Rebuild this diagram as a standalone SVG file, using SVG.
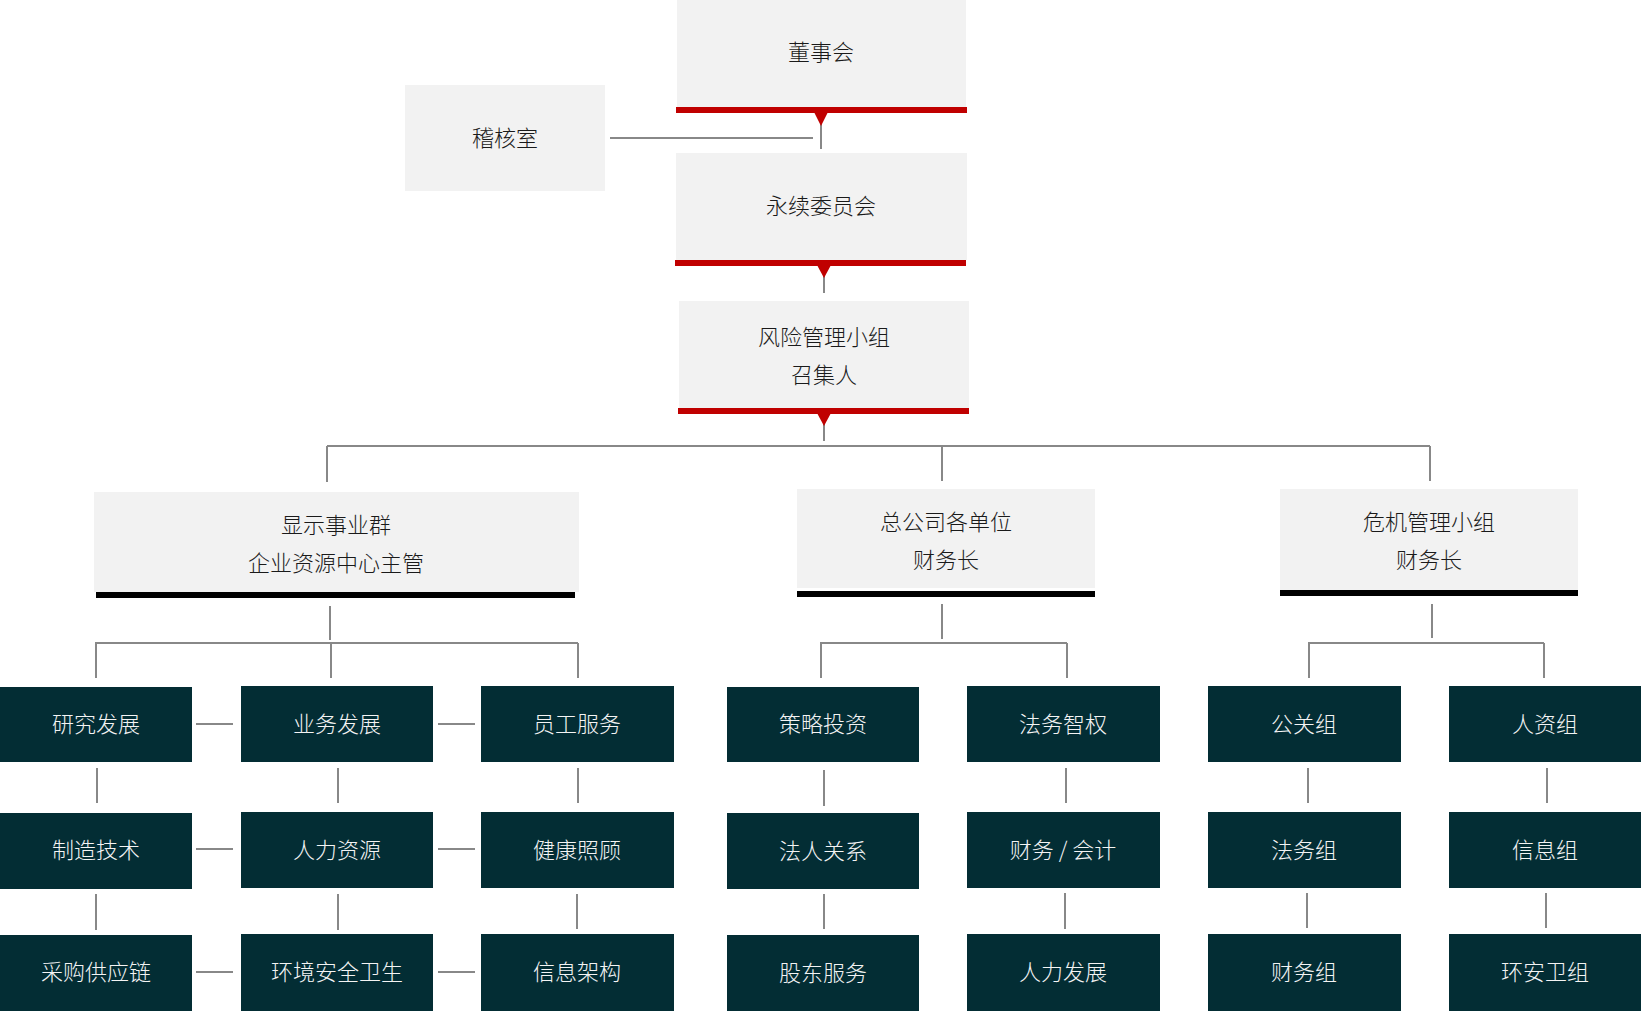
<svg xmlns="http://www.w3.org/2000/svg" width="1641" height="1011" viewBox="0 0 1641 1011">
<style>
.lt{fill:#f2f2f2}
.dk{fill:#032d34}
.red{fill:#c00000}
.blk{fill:#000}
.t{font-family:"Noto Sans CJK SC","Noto Sans",sans-serif;font-size:22px;font-weight:300;text-anchor:middle;dominant-baseline:central}
.td{fill:#1a1a1a}
.tw{fill:#f4f4f4}
.ln{stroke:#888;stroke-width:2;fill:none}
</style>
<rect width="1641" height="1011" fill="#fff"/>
<g id="connectors">
<path class="ln" d="M610 138H813M821 113V149M824 266V293M824 414V441"/>
<path class="ln" d="M327 446H1430M327 446V482M942 446V481M1430 446V481"/>
<path class="ln" d="M330 606V640M95 643H578M96 643V678M331 643V678M578 643V678"/>
<path class="ln" d="M942 604V639M820 643H1067M821 643V678M1067 643V678"/>
<path class="ln" d="M1432 604V638M1308 643H1544M1309 643V678M1544 643V678"/>
<path class="ln" d="M97 768V803M96 894V930M338 768V803M338 894V930M578 768V803M577 894V929M824 770V806M824 894V929M1066 768V803M1065 893V929M1308 768V803M1307 893V928M1547 768V803M1546 893V928"/>
<path class="ln" d="M196 724H233M438 724H475M196 849H233M438 849H475M196 972H233M438 972H475"/>
<polygon class="red" points="814,112 828,112 821,126"/>
<polygon class="red" points="817,265 831,265 824,278"/>
<polygon class="red" points="817,413 831,413 824,426"/>
</g>
<g id="node-dongshihui">
<rect class="lt" x="677" y="0" width="289" height="107"/>
<rect class="red" x="676" y="107" width="291" height="6"/>
<text class="t td" x="821" y="50">董事会</text>
</g>
<g id="node-jiheshi">
<rect class="lt" x="405" y="85" width="200" height="106"/>
<text class="t td" x="505" y="136">稽核室</text>
</g>
<g id="node-yongxu">
<rect class="lt" x="676" y="153" width="291" height="107"/>
<rect class="red" x="675" y="260" width="291" height="6"/>
<text class="t td" x="821" y="204">永续委员会</text>
</g>
<g id="node-fengxian">
<rect class="lt" x="679" y="301" width="290" height="107"/>
<rect class="red" x="678" y="408" width="291" height="6"/>
<text class="t td" x="824" y="335">风险管理小组</text>
<text class="t td" x="824" y="373">召集人</text>
</g>
<g id="node-xianshi">
<rect class="lt" x="94" y="492" width="485" height="100"/>
<rect class="blk" x="96" y="592" width="479" height="6"/>
<text class="t td" x="336" y="523">显示事业群</text>
<text class="t td" x="336" y="561">企业资源中心主管</text>
</g>
<g id="node-zonggongsi">
<rect class="lt" x="797" y="489" width="298" height="99"/>
<rect class="blk" x="797" y="591" width="298" height="6"/>
<text class="t td" x="946" y="520">总公司各单位</text>
<text class="t td" x="946" y="558">财务长</text>
</g>
<g id="node-weiji">
<rect class="lt" x="1280" y="489" width="298" height="101"/>
<rect class="blk" x="1280" y="590" width="298" height="6"/>
<text class="t td" x="1429" y="520">危机管理小组</text>
<text class="t td" x="1429" y="558">财务长</text>
</g>
<g id="node-yanjiu"><rect class="dk" x="0" y="687" width="192" height="75"/><text class="t tw" x="96" y="722">研究发展</text></g>
<g id="node-yewu"><rect class="dk" x="241" y="686" width="192" height="76"/><text class="t tw" x="337" y="722">业务发展</text></g>
<g id="node-yuangong"><rect class="dk" x="481" y="686" width="193" height="76"/><text class="t tw" x="577" y="722">员工服务</text></g>
<g id="node-celue"><rect class="dk" x="727" y="687" width="192" height="75"/><text class="t tw" x="823" y="722">策略投资</text></g>
<g id="node-fawuzhiquan"><rect class="dk" x="967" y="686" width="193" height="76"/><text class="t tw" x="1063" y="722">法务智权</text></g>
<g id="node-gongguan"><rect class="dk" x="1208" y="686" width="193" height="76"/><text class="t tw" x="1304" y="722">公关组</text></g>
<g id="node-renzi"><rect class="dk" x="1449" y="686" width="192" height="76"/><text class="t tw" x="1545" y="722">人资组</text></g>
<g id="node-zhizao"><rect class="dk" x="0" y="813" width="192" height="76"/><text class="t tw" x="96" y="848">制造技术</text></g>
<g id="node-renli"><rect class="dk" x="241" y="812" width="192" height="76"/><text class="t tw" x="337" y="848">人力资源</text></g>
<g id="node-jiankang"><rect class="dk" x="481" y="812" width="193" height="76"/><text class="t tw" x="577" y="848">健康照顾</text></g>
<g id="node-faren"><rect class="dk" x="727" y="813" width="192" height="76"/><text class="t tw" x="823" y="849">法人关系</text></g>
<g id="node-caiwukuaiji"><rect class="dk" x="967" y="812" width="193" height="76"/><text class="t tw" x="1063" y="848">财务 / 会计</text></g>
<g id="node-fawuzu"><rect class="dk" x="1208" y="812" width="193" height="76"/><text class="t tw" x="1304" y="848">法务组</text></g>
<g id="node-xinxizu"><rect class="dk" x="1449" y="812" width="192" height="76"/><text class="t tw" x="1545" y="848">信息组</text></g>
<g id="node-caigou"><rect class="dk" x="0" y="935" width="192" height="76"/><text class="t tw" x="96" y="970">采购供应链</text></g>
<g id="node-huanjing"><rect class="dk" x="241" y="934" width="192" height="77"/><text class="t tw" x="337" y="970">环境安全卫生</text></g>
<g id="node-xinxijiagou"><rect class="dk" x="481" y="934" width="193" height="77"/><text class="t tw" x="577" y="970">信息架构</text></g>
<g id="node-gudong"><rect class="dk" x="727" y="935" width="192" height="76"/><text class="t tw" x="823" y="971">股东服务</text></g>
<g id="node-renlifazhan"><rect class="dk" x="967" y="934" width="193" height="77"/><text class="t tw" x="1063" y="970">人力发展</text></g>
<g id="node-caiwuzu"><rect class="dk" x="1208" y="934" width="193" height="77"/><text class="t tw" x="1304" y="970">财务组</text></g>
<g id="node-huananweizu"><rect class="dk" x="1449" y="934" width="192" height="77"/><text class="t tw" x="1545" y="970">环安卫组</text></g>
</svg>
